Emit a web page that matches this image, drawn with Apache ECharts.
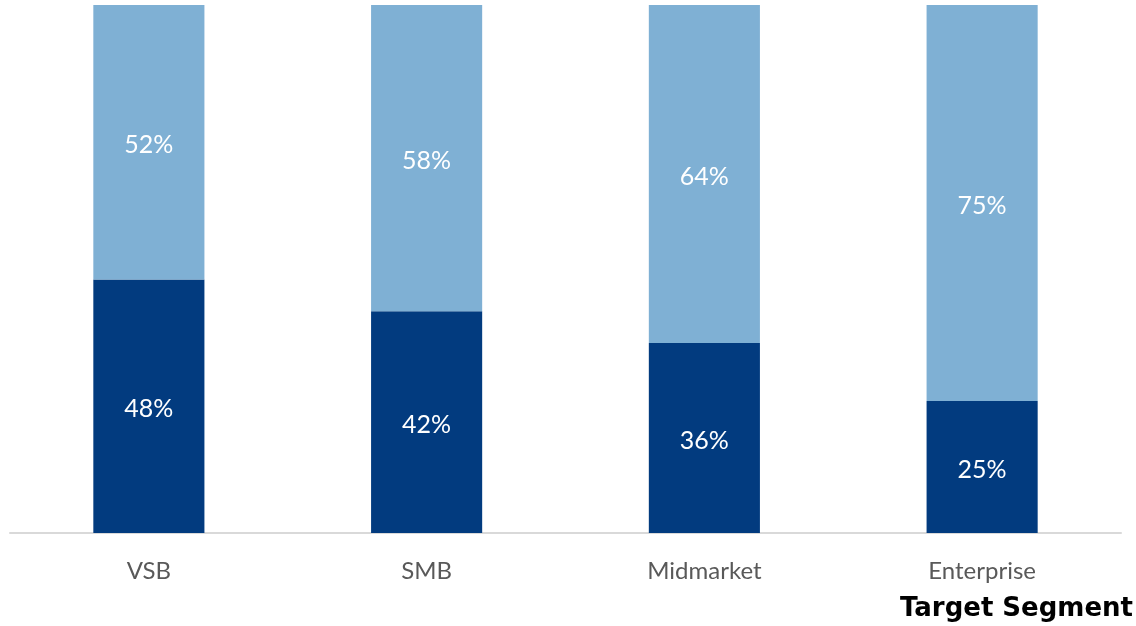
<!DOCTYPE html>
<html>
<head>
<meta charset="utf-8">
<script src="https://cdn.jsdelivr.net/npm/echarts@6/dist/echarts.min.js"></script>
<style>
  html, body { margin: 0; padding: 0; background: #fff; }
  #chart { width: 1136px; height: 626px; }
</style>
</head>
<body>
<div id="chart"></div>
<script>
// Share of each target segment (percent)
const categories = ['VSB', 'SMB', 'Midmarket', 'Enterprise'];
const lowerShare = [48, 42, 36, 25];
const upperShare = [52, 58, 64, 75];
const axisTitle = 'Target Segment';

const chart = echarts.init(document.getElementById('chart'));

const labelStyle = {
  show: true,
  position: 'inside',
  offset: [0, 3],
  color: '#ffffff',
  fontSize: 25,
  fontFamily: 'Lato',
  formatter: p => p.value + '%'
};

chart.setOption({
  animation: false,
  grid: { left: 10, right: 15, top: 5, bottom: 93, containLabel: false },
  xAxis: {
    type: 'category',
    data: categories,
    axisLine: { lineStyle: { color: '#d9d9d9', width: 2 } },
    axisTick: { show: false },
    axisLabel: { color: '#595959', fontSize: 24, fontFamily: 'Lato', margin: 26 }
  },
  yAxis: {
    type: 'value',
    min: 0,
    max: 100,
    show: false
  },
  series: [
    {
      type: 'bar',
      stack: 'share',
      data: lowerShare,
      barWidth: '40%',
      itemStyle: { color: '#023b7f' },
      label: labelStyle
    },
    {
      type: 'bar',
      stack: 'share',
      data: upperShare,
      barWidth: '40%',
      itemStyle: { color: '#7fb0d4' },
      label: labelStyle
    }
  ],
  graphic: [{
    type: 'text',
    right: 3,
    top: 596,
    style: {
      text: axisTitle,
      fill: '#000000',
      fontSize: 26,
      fontWeight: 'bold',
      fontFamily: 'DejaVu Sans'
    }
  }]
});
</script>
</body>
</html>
